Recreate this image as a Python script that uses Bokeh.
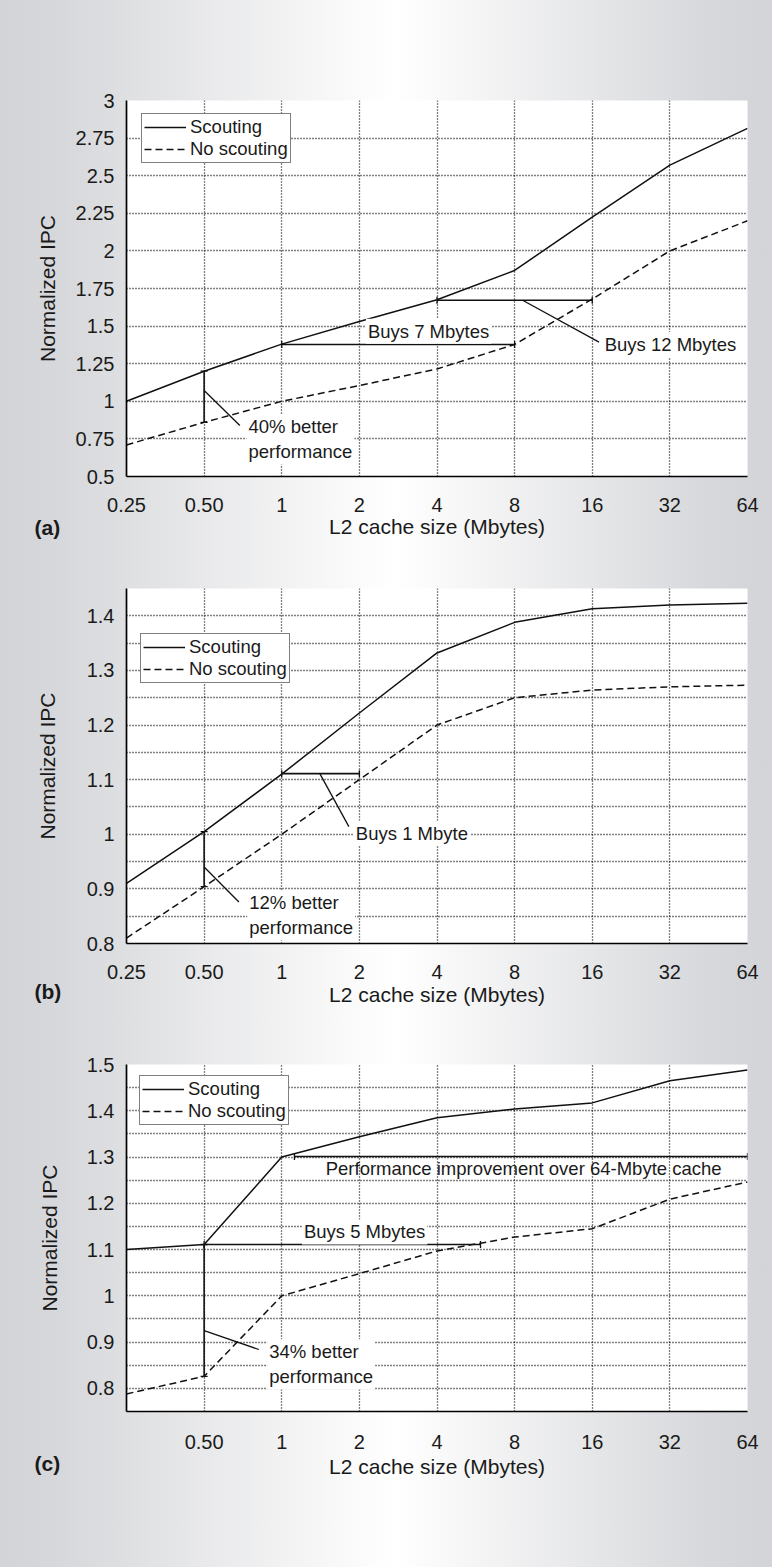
import math
from bokeh.plotting import figure
from bokeh.models import (Range1d, FixedTicker, CustomJSTickFormatter, Legend,
                          LegendItem, Label)
from bokeh.layouts import column
from bokeh.embed import file_html
from bokeh.resources import INLINE

# ---------------- data ----------------
sizes = [0.25, 0.5, 1, 2, 4, 8, 16, 32, 64]
x_labels_ab = ["0.25", "0.50", "1", "2", "4", "8", "16", "32", "64"]
x_ticks_c = [0.5, 1, 2, 4, 8, 16, 32, 64]
x_labels_c = ["0.50", "1", "2", "4", "8", "16", "32", "64"]

a_scout = [1.0, 1.2, 1.38, 1.53, 1.675, 1.87, 2.225, 2.57, 2.815]
a_noscout = [0.71, 0.86, 1.0, 1.105, 1.215, 1.378, 1.68, 2.0, 2.2]
b_scout = [0.91, 1.005, 1.11, 1.222, 1.332, 1.388, 1.413, 1.42, 1.423]
b_noscout = [0.81, 0.904, 1.0, 1.1, 1.2, 1.25, 1.264, 1.27, 1.273]
c_scout = [1.1, 1.111, 1.3, 1.344, 1.385, 1.404, 1.417, 1.465, 1.488]
c_noscout = [0.788, 0.826, 1.0, 1.048, 1.097, 1.127, 1.145, 1.209, 1.246]

ya_ticks = [0.5, 0.75, 1, 1.25, 1.5, 1.75, 2, 2.25, 2.5, 2.75, 3]
ya_labels = ["0.5", "0.75", "1", "1.25", "1.5", "1.75", "2", "2.25", "2.5", "2.75", "3"]
yb_ticks = [0.8, 0.9, 1, 1.1, 1.2, 1.3, 1.4]
yb_labels = ["0.8", "0.9", "1", "1.1", "1.2", "1.3", "1.4"]
yb_minor = [0.85, 0.95, 1.05, 1.15, 1.25, 1.35, 1.45]
yc_ticks = [0.8, 0.9, 1, 1.1, 1.2, 1.3, 1.4, 1.5]
yc_labels = ["0.8", "0.9", "1", "1.1", "1.2", "1.3", "1.4", "1.5"]
yc_minor = [0.85, 0.95, 1.05, 1.15, 1.25, 1.35, 1.45]

# annotation anchors (data units): bars, leaders, texts
a_vbar = [0.5, 0.86, 1.2]                    # x, y0, y1
a_hbars = [[1, 8, 1.378], [4, 16, 1.672]]    # x0, x1, y
a_leaders = [[0.5, 1.072, 0.688, 0.839], [8.59, 1.672, 17.0, 1.393]]
a_texts = [["40% better\nperformance", 0.73, 0.747, "left"],
           ["Buys 7 Mbytes", 3.71, 1.466, "center"],
           ["Buys 12 Mbytes", 17.56, 1.378, "left"]]

b_vbar = [0.5, 0.904, 1.005]
b_hbars = [[1, 2, 1.111]]
b_leaders = [[0.5, 0.94, 0.682, 0.876], [1.405, 1.111, 1.821, 1.014]]
b_texts = [["12% better\nperformance", 0.735, 0.852, "left"],
           ["Buys 1 Mbyte", 1.904, 1.002, "left"]]

c_vbar = [0.5, 0.826, 1.111]
c_hbars = [[0.5, 5.9, 1.111], [1.12, 64, 1.301]]
c_leaders = [[0.5, 0.925, 0.815, 0.884]]
c_texts = [["34% better\nperformance", 0.878, 0.852, "left"],
           ["Buys 5 Mbytes", 2.095, 1.138, "center"],
           ["Performance improvement over 64-Mbyte cache", 8.67, 1.275, "center"]]

FONT = "Liberation Sans"
GRID = "#000000"
INK = "#111111"


def make_panel(tag, height, top, bottom, yr, yt, yl, ymin, xt, xl,
               scout, noscout, vbar, hbars, leaders, texts, leg_loc,
               ylab_standoff, xlab_standoff, xtick_standoff, texts_bg):
    p = figure(width=772, height=height, x_axis_type="log",
               x_range=Range1d(0.25, 64), y_range=Range1d(*yr),
               min_border_left=126, min_border_right=25,
               min_border_top=top, min_border_bottom=bottom,
               output_backend="svg", toolbar_location=None)
    p.border_fill_color = None
    p.background_fill_color = "white"
    p.outline_line_color = None

    p.xaxis.ticker = FixedTicker(ticks=xt)
    p.xgrid.ticker = FixedTicker(ticks=xt)
    p.xaxis.formatter = CustomJSTickFormatter(
        args=dict(vals=xt, labs=xl),
        code="const i = vals.indexOf(tick); return i >= 0 ? labs[i] : '';")
    yticker = FixedTicker(ticks=yt, minor_ticks=ymin)
    p.yaxis.ticker = yticker
    p.ygrid.ticker = yticker
    p.yaxis.formatter = CustomJSTickFormatter(
        args=dict(vals=yt, labs=yl),
        code="const i = vals.indexOf(tick); return i >= 0 ? labs[i] : '';")

    for ax in (p.xaxis, p.yaxis):
        ax.major_tick_line_color = None
        ax.minor_tick_line_color = None
        ax.axis_line_color = "black"
        ax.axis_line_width = 1.7
        ax.major_label_text_font = FONT
        ax.major_label_text_font_size = "20px"
        ax.major_label_text_color = "#1a1a1a"
        ax.axis_label_text_font = FONT
        ax.axis_label_text_font_size = "21px"
        ax.axis_label_text_font_style = "normal"
        ax.axis_label_text_color = "#1a1a1a"
    p.xaxis.axis_label = "L2 cache size (Mbytes)"
    p.yaxis.axis_label = "Normalized IPC"
    p.yaxis.major_label_standoff = 6
    p.yaxis.axis_label_standoff = ylab_standoff
    p.xaxis.major_label_standoff = xtick_standoff
    p.xaxis.axis_label_standoff = xlab_standoff

    for g in (p.xgrid, p.ygrid):
        g.grid_line_color = GRID
        g.grid_line_dash = "1 2"
        g.grid_line_width = 1.3
    p.ygrid.minor_grid_line_color = GRID
    p.ygrid.minor_grid_line_dash = "1 2"
    p.ygrid.minor_grid_line_width = 1.3

    r1 = p.line(sizes, scout, line_color=INK, line_width=1.5)
    r2 = p.line(sizes, noscout, line_color=INK, line_width=1.5,
                line_dash="7 4")

    # difference bar (vertical) with caps
    p.segment(x0=[vbar[0]], y0=[vbar[1]], x1=[vbar[0]], y1=[vbar[2]],
              line_color=INK, line_width=1.6)
    p.scatter([vbar[0], vbar[0]], [vbar[1], vbar[2]], marker="dash", size=7,
              line_color=INK, line_width=1.3)
    # horizontal bars with caps
    for x0, x1, y in hbars:
        p.segment(x0=[x0], y0=[y], x1=[x1], y1=[y], line_color=INK,
                  line_width=1.6)
        p.scatter([x0, x1], [y, y], marker="dash", size=7, angle=math.pi / 2,
                  line_color=INK, line_width=1.3)
    for x0, y0, x1, y1 in leaders:
        p.segment(x0=[x0], y0=[y0], x1=[x1], y1=[y1], line_color=INK,
                  line_width=1.3)
    for i, (txt, tx, ty, al) in enumerate(texts):
        bg = "white" if texts_bg[i] else None
        p.add_layout(Label(x=tx, y=ty, text=txt, text_align=al,
                           text_baseline="middle", text_font=FONT,
                           text_font_size="18.5px", text_color="#1a1a1a",
                           text_line_height=1.2,
                           background_fill_color=bg, padding=2))

    leg = Legend(items=[LegendItem(label="Scouting", renderers=[r1]),
                        LegendItem(label="No scouting", renderers=[r2])],
                 location=leg_loc, orientation="vertical",
                 border_line_color="black", border_line_width=1.2,
                 background_fill_color="white", background_fill_alpha=1,
                 label_text_font=FONT, label_text_font_size="18.5px",
                 label_text_color="#1a1a1a",
                 glyph_width=42, glyph_height=20, label_height=20,
                 spacing=0, padding=2, label_standoff=4, margin=0)
    p.add_layout(leg)

    # panel tag, placed in the left side panel so it is not clipped to the frame
    p.add_layout(Label(x=0.25, y=yr[0], x_offset=-92, y_offset=tag[1],
                       text=tag[0], text_font=FONT, text_font_size="21px",
                       text_font_style="bold", text_baseline="middle",
                       text_color="#1a1a1a"), "left")
    return p


pa = make_panel(("(a)", -51), 555, 100, 79, (0.5, 3), ya_ticks, ya_labels, [],
                sizes, x_labels_ab, a_scout, a_noscout, a_vbar, a_hbars,
                a_leaders, a_texts, (15, 313), 14, 0, 15, [True, True, True])
pb = make_panel(("(b)", -48), 475, 33, 87, (0.8, 1.45), yb_ticks, yb_labels,
                yb_minor, sizes, x_labels_ab, b_scout, b_noscout, b_vbar,
                b_hbars, b_leaders, b_texts, (14, 260), 25, 1, 15,
                [True, True])
pc = make_panel(("(c)", -52), 536, 34, 155, (0.75, 1.5), yc_ticks, yc_labels,
                yc_minor, x_ticks_c, x_labels_c, c_scout, c_noscout, c_vbar,
                c_hbars, c_leaders, c_texts, (13, 286), 23, 3, 17,
                [True, True, False])

layout = column(pa, pb, pc, spacing=0)

html = file_html(layout, INLINE, title="L2 cache size vs normalized IPC")
css = ("<style>html{background:linear-gradient(to right,#d3d4d7 0%,#d7d8db 8%,"
       "#ffffff 51%,#d7d8db 92%,#d3d4d7 100%);}</style>")
html = html.replace("<head>", "<head>" + css, 1)
open("out.html", "w").write(html)
